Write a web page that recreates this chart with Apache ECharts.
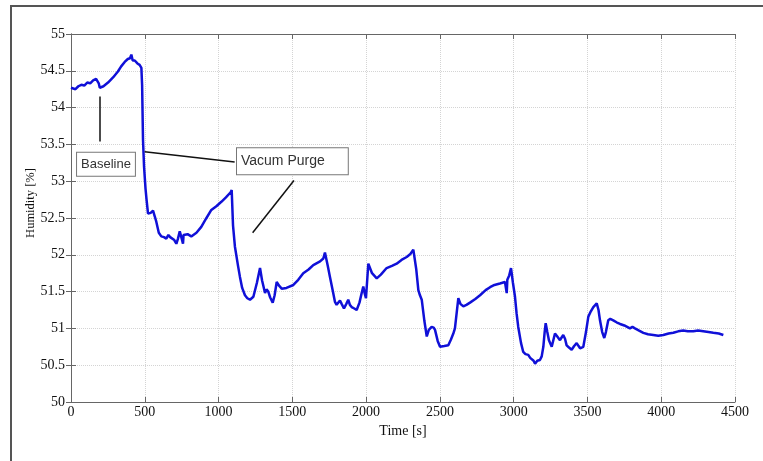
<!DOCTYPE html>
<html><head><meta charset="utf-8">
<script src="https://cdn.jsdelivr.net/npm/echarts@6/dist/echarts.min.js"></script>
<style>html,body{margin:0;padding:0;background:#fff;}#c{width:763px;height:461px;}</style>
</head><body><div id="c"></div>
<script>
// Time [s]
var times = [0,30,50,70,90,110,130,150,170,180,188,195,220,251,285,318,340,364,385,400,409,418,432,450,465,477,482,488,495,505,512,522,540,556,568,578,595,612,630,646,660,672,680,700,714,725,737,745,752,759,763,770,790,815,850,883,915,951,985,1019,1050,1082,1089,1098,1111,1132,1145,1160,1179,1195,1213,1236,1260,1281,1295,1315,1325,1337,1350,1367,1380,1394,1410,1428,1460,1507,1540,1574,1610,1642,1688,1710,1721,1740,1755,1775,1789,1800,1812,1823,1835,1850,1865,1879,1890,1902,1920,1936,1955,1970,1981,1990,1999,2015,2040,2072,2100,2139,2175,2207,2240,2275,2300,2320,2340,2354,2365,2377,2395,2411,2425,2444,2458,2467,2485,2501,2530,2557,2575,2591,2602,2625,2640,2659,2680,2704,2740,2772,2810,2840,2870,2907,2941,2950,2953,2957,2970,2982,2995,3009,3020,3031,3050,3065,3080,3099,3112,3122,3135,3145,3160,3178,3190,3201,3210,3217,3228,3239,3258,3270,3280,3292,3303,3314,3326,3336,3348,3359,3375,3393,3410,3427,3440,3450,3472,3490,3506,3520,3540,3563,3575,3585,3600,3614,3625,3641,3655,3675,3700,3721,3750,3788,3805,3822,3850,3879,3910,3946,3980,4014,4050,4082,4115,4149,4180,4217,4250,4285,4320,4353,4390,4421];
// Humidity [%]
var humidity = [54.27,54.25,54.29,54.31,54.30,54.34,54.33,54.37,54.39,54.40,54.33,54.27,54.29,54.34,54.41,54.49,54.56,54.62,54.66,54.67,54.72,54.64,54.64,54.60,54.58,54.54,54.30,53.56,53.20,52.90,52.75,52.56,52.57,52.60,52.52,52.45,52.30,52.25,52.24,52.22,52.27,52.24,52.25,52.20,52.15,52.22,52.32,52.26,52.26,52.15,52.27,52.29,52.28,52.25,52.30,52.38,52.49,52.61,52.66,52.72,52.78,52.85,52.88,52.40,52.11,51.85,51.70,51.55,51.45,51.41,51.39,51.43,51.62,51.82,51.65,51.48,51.53,51.50,51.42,51.35,51.45,51.63,51.58,51.54,51.55,51.59,51.66,51.75,51.80,51.86,51.91,51.95,52.03,51.85,51.70,51.50,51.36,51.32,51.32,51.38,51.33,51.27,51.33,51.39,51.32,51.29,51.27,51.25,51.35,51.48,51.57,51.48,51.41,51.88,51.75,51.68,51.73,51.82,51.85,51.88,51.93,51.97,52.01,52.07,51.80,51.52,51.45,51.39,51.10,50.89,50.98,51.02,51.01,50.98,50.83,50.75,50.76,50.77,50.85,50.93,51.00,51.41,51.33,51.30,51.32,51.35,51.40,51.45,51.52,51.56,51.59,51.61,51.63,51.63,51.48,51.66,51.72,51.82,51.62,51.43,51.20,51.02,50.80,50.68,50.65,50.64,50.60,50.59,50.56,50.52,50.56,50.57,50.62,50.75,50.95,51.07,50.95,50.84,50.75,50.85,50.93,50.90,50.89,50.84,50.88,50.91,50.86,50.77,50.74,50.71,50.76,50.80,50.76,50.73,50.75,50.95,51.16,51.22,51.29,51.34,51.25,51.11,50.95,50.87,50.95,51.11,51.13,51.11,51.08,51.06,51.04,51.00,51.02,51.00,50.97,50.94,50.92,50.91,50.90,50.91,50.93,50.94,50.96,50.97,50.96,50.96,50.97,50.96,50.95,50.94,50.93,50.91];
var xTicks = [0,500,1000,1500,2000,2500,3000,3500,4000,4500];
var yTicks = [50,50.5,51,51.5,52,52.5,53,53.5,54,54.5,55];

var seriesData = times.map(function(t,i){return [t, humidity[i]];});
var serif = '"Liberation Serif","Times New Roman",serif';
var chart = echarts.init(document.getElementById('c'), null, {renderer:'canvas'});
var axisCommon = {
  axisLine:{show:true,lineStyle:{color:'#666',width:1}},
  axisTick:{show:true,inside:true,length:5,lineStyle:{color:'#666'}},
  splitLine:{show:false}
};
chart.setOption({
  animation:false,
  backgroundColor:'#fff',
  grid:{left:71,right:28,top:34,bottom:59},
  graphic:[{type:'rect',shape:{x:11,y:6,width:800,height:500},style:{fill:'none',stroke:'#555',lineWidth:2},z:-1}],
  xAxis:[
    Object.assign({type:'value',min:xTicks[0],max:xTicks[xTicks.length-1],interval:xTicks[1]-xTicks[0],position:'bottom',
      name:'Time [s]',nameLocation:'middle',nameGap:17,
      nameTextStyle:{fontFamily:serif,fontSize:14,color:'#111'},
      axisLabel:{fontFamily:serif,fontSize:14,color:'#111',margin:3,formatter:function(v){return String(v);}},
    },axisCommon,{splitLine:{show:true,lineStyle:{color:'#d4d4d4',type:'dotted',width:1}}}),
    Object.assign({type:'value',min:xTicks[0],max:xTicks[xTicks.length-1],interval:xTicks[1]-xTicks[0],position:'top',axisLabel:{show:false}},axisCommon)
  ],
  yAxis:[
    Object.assign({type:'value',min:yTicks[0],max:yTicks[yTicks.length-1],interval:yTicks[1]-yTicks[0],position:'left',
      name:'Humidity [%]',nameLocation:'middle',nameGap:34,nameRotate:90,nameMoveOverlap:false,
      nameTextStyle:{fontFamily:serif,fontSize:12.5,color:'#111',padding:[0,0,0,30]},
      axisLabel:{fontFamily:serif,fontSize:14,color:'#111',margin:6,formatter:function(v){return String(v);}},
    },axisCommon,{splitLine:{show:true,lineStyle:{color:'#d4d4d4',type:'dotted',width:1}}}),
    Object.assign({type:'value',min:yTicks[0],max:yTicks[yTicks.length-1],interval:yTicks[1]-yTicks[0],position:'right',axisLabel:{show:false}},axisCommon)
  ],
  series:[{
    type:'line',data:seriesData,showSymbol:false,symbol:'none',
    lineStyle:{color:'#1010d8',width:2.5},
    markLine:{
      silent:true,symbol:['none','none'],
      lineStyle:{color:'#111',width:1.5,type:'solid'},
      label:{show:false},
      data:[
        [{coord:[194,54.15]},{coord:[194,53.54]}],
        [{coord:[499,53.40]},{coord:[1109,53.26]}],
        [{coord:[1231,52.30]},{coord:[1511,53.01]}]
      ]
    },
    markPoint:{
      silent:true,symbol:'rect',symbolSize:0,
      data:[
        {coord:[41,53.23],label:{show:true,position:'right',distance:0,formatter:'Baseline',
          fontFamily:'"Liberation Sans",Arial,sans-serif',fontSize:13,color:'#333',
          backgroundColor:'#fff',borderColor:'#777',borderWidth:1,padding:[5,4,5,4]}},
        {coord:[1125,53.27],label:{show:true,position:'right',distance:0,formatter:'Vacum Purge',
          fontFamily:'"Liberation Sans",Arial,sans-serif',fontSize:14,color:'#333',
          backgroundColor:'#fff',borderColor:'#777',borderWidth:1,padding:[6,23,6,4]}}
      ]
    }
  }]
});
</script></body></html>
